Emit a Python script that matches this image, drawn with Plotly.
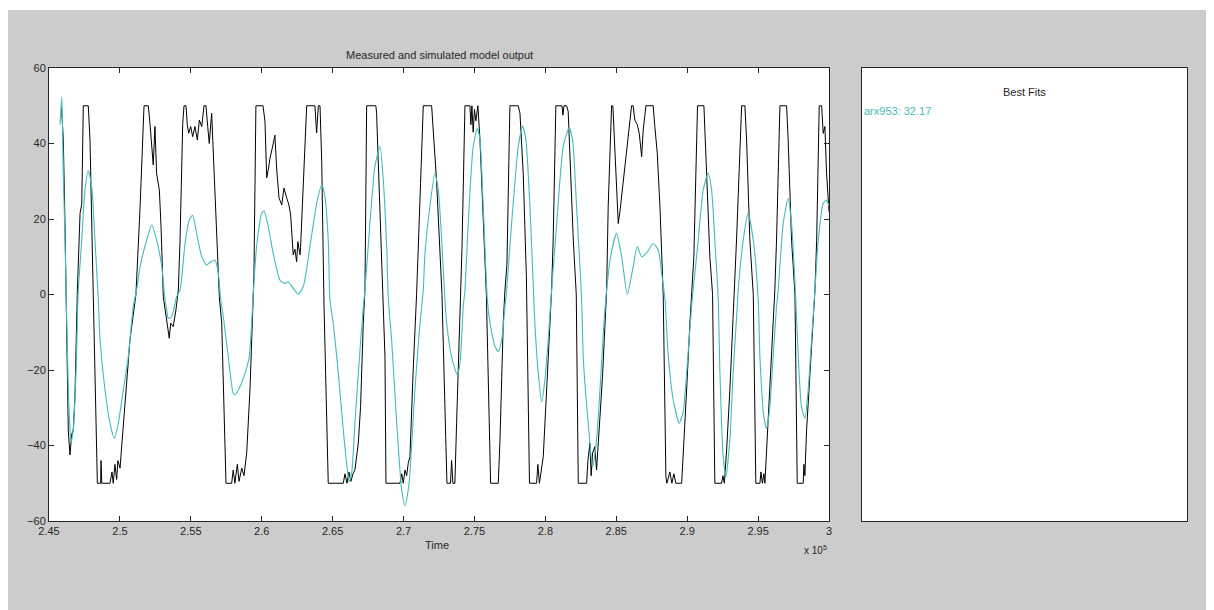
import plotly.graph_objects as go
import numpy as np

# ---- data (time in units of 1e5) ----
meas_t = [2.4588, 2.4601, 2.4613, 2.4625, 2.4636, 2.4648, 2.4660, 2.4671, 2.4683, 2.4700,
          2.4719, 2.4731, 2.4742, 2.4777, 2.4789, 2.4812, 2.4841, 2.4864, 2.4867, 2.4872,
          2.4930, 2.4944, 2.4953, 2.4965, 2.4977, 2.4986, 2.5001, 2.5013, 2.5048, 2.5071,
          2.5113, 2.5142, 2.5170, 2.5200, 2.5212, 2.5224, 2.5235, 2.5247, 2.5259, 2.5278,
          2.5290, 2.5306, 2.5318, 2.5330, 2.5348, 2.5358, 2.5376, 2.5395, 2.5412, 2.5424,
          2.5443, 2.5452, 2.5466, 2.5475, 2.5485, 2.5499, 2.5513, 2.5529, 2.5546, 2.5560,
          2.5577, 2.5593, 2.5607, 2.5619, 2.5630, 2.5647, 2.5663, 2.5682, 2.5701, 2.5718,
          2.5734, 2.5748, 2.5788, 2.5799, 2.5811, 2.5828, 2.5840, 2.5859, 2.5875, 2.5894,
          2.5917, 2.5933, 2.5945, 2.5959, 2.6009, 2.6023, 2.6035, 2.6046, 2.6058, 2.6079,
          2.6093, 2.6105, 2.6122, 2.6141, 2.6157, 2.6176, 2.6192, 2.6204, 2.6211, 2.6222,
          2.6234, 2.6246, 2.6255, 2.6270, 2.6274, 2.6317, 2.6375, 2.6387, 2.6399, 2.6411,
          2.6423, 2.6439, 2.6469, 2.6575, 2.6587, 2.6601, 2.6615, 2.6629, 2.6643, 2.6657,
          2.6681, 2.6697, 2.6716, 2.6728, 2.6740, 2.6805, 2.6810, 2.6834, 2.6857, 2.6869,
          2.6876, 2.6975, 2.6987, 2.6998, 2.7010, 2.7022, 2.7033, 2.7045, 2.7068, 2.7092,
          2.7120, 2.7139, 2.7198, 2.7233, 2.7271, 2.7306, 2.7331, 2.7339, 2.7348, 2.7362,
          2.7374, 2.7398, 2.7412, 2.7433, 2.7468, 2.7475, 2.7482, 2.7491, 2.7500, 2.7510,
          2.7524, 2.7539, 2.7562, 2.7584, 2.7614, 2.7668, 2.7680, 2.7703, 2.7715, 2.7729,
          2.7750, 2.7809, 2.7821, 2.7844, 2.7866, 2.7888, 2.7938, 2.7947, 2.7958, 2.7969,
          2.7985, 2.8009, 2.8032, 2.8044, 2.8055, 2.8074, 2.8117, 2.8124, 2.8131, 2.8150,
          2.8161, 2.8178, 2.8197, 2.8218, 2.8232, 2.8291, 2.8300, 2.8314, 2.8323, 2.8333,
          2.8349, 2.8361, 2.8373, 2.8385, 2.8404, 2.8420, 2.8432, 2.8443, 2.8467, 2.8476,
          2.8514, 2.8526, 2.8573, 2.8608, 2.8619, 2.8631, 2.8648, 2.8662, 2.8679, 2.8690,
          2.8709, 2.8760, 2.8772, 2.8789, 2.8808, 2.8831, 2.8850, 2.8857, 2.8878, 2.8892,
          2.8906, 2.8920, 2.8961, 2.8972, 2.8996, 2.9019, 2.9031, 2.9047, 2.9073, 2.9118,
          2.9137, 2.9160, 2.9179, 2.9195, 2.9243, 2.9252, 2.9262, 2.9278, 2.9301, 2.9324,
          2.9336, 2.9348, 2.9384, 2.9407, 2.9419, 2.9442, 2.9466, 2.9484, 2.9513, 2.9520,
          2.9530, 2.9541, 2.9548, 2.9560, 2.9583, 2.9606, 2.9618, 2.9630, 2.9654, 2.9701,
          2.9712, 2.9736, 2.9760, 2.9776, 2.9818, 2.9823, 2.9830, 2.9842, 2.9865, 2.9889,
          2.9901, 2.9913, 2.9931, 2.9948, 2.9959, 2.9971, 2.9983, 3.0000]
meas_y = [50, 41, 18, -10, -36, -42.5, -37, -36, -27, 1,
          21.5, 24, 50, 50, 41, 0, -50, -50, -44, -50,
          -50, -47, -50, -45, -49, -44, -46, -40, -24, -12,
          0, 23, 50, 50, 45.3, 38.3, 34.3, 44.5, 32, 27.7,
          18, -0.6, -4.1, -6.8, -11.6, -7.6, -8.5, -4.1, 1.2, 14.4,
          45.3, 50, 50, 45, 42.7, 44.5, 41.8, 44.5, 40.9, 46.2,
          44.5, 50, 50, 44.5, 40, 48, 33.9, 18, -0.6, -7.6,
          -34.1, -50, -50, -46.5, -50, -45, -49.5, -46, -48, -42,
          -25.3, -7.6, 5, 50, 50, 45.8, 30.9, 33, 36, 39.6,
          42.2, 33.5, 25.6, 23.7, 28.2, 25.6, 23.7, 21, 15.8, 10.5,
          12, 8.7, 14, 10.5, 12.5, 50, 50, 42.8, 50, 50,
          35.2, -2.8, -50, -50, -47.5, -50, -47, -49.5, -47.5, -46.5,
          -39.4, -29.7, -7.6, 1.2, 50, 50, 48, 23, -1.5, -16.5,
          -50, -50, -47.5, -50, -46.5, -48, -44.7, -43, -20, 0,
          29.4, 50, 50, 30, 0, -50, -50, -44, -50, -50,
          -34.1, -7.6, 12, 50, 50, 45, 50, 43, 49, 46,
          50, 40.9, 18.8, 0, -50, -50, -38.5, -7.6, 1.2, 8,
          50, 50, 48, 32, 5, -50, -50, -45, -50, -47,
          -43, -25.3, -7.6, 1.2, 14.4, 50, 50, 47.5, 50, 50,
          48.5, 32, 14.4, 0, -50, -50, -44, -39.4, -48, -42,
          -40.3, -46.5, -38, -32.4, -20.9, -7.6, 1.2, 23.3, 50, 50,
          18.8, 22, 37.4, 50, 50, 46.2, 45, 42.7, 36.5, 43.6,
          50, 50, 44.5, 37.4, 23.3, 0, -48.3, -50, -47, -50,
          -47.5, -50, -50, -43, -25.3, -7.6, 1.2, 10, 50, 50,
          32, 10, 0, -50, -50, -48, -50, -41.2, -25.3, -7.6,
          1.2, 14.4, 50, 50, 40.9, 14.4, 0, -50, -50, -47,
          -50, -47.5, -50, -41.2, -25.3, -7.6, 1.2, 14.4, 50, 50,
          40.9, 14.4, 0, -50, -50, -45, -48, -35.9, -20.9, -7.6,
          1.2, 14.4, 50, 50, 42.7, 44.5, 32, 22]

sim_t = [2.4578, 2.4590, 2.4601, 2.4613, 2.4636, 2.4648, 2.4655, 2.4660, 2.4671, 2.4690,
         2.4707, 2.4731, 2.4754, 2.4777, 2.4801, 2.4824, 2.4848, 2.4860, 2.4895, 2.4930,
         2.4960, 2.4989, 2.5024, 2.5059, 2.5094, 2.5118, 2.5142, 2.5189, 2.5224, 2.5259,
         2.5295, 2.5318, 2.5330, 2.5341, 2.5365, 2.5400, 2.5424, 2.5459, 2.5489, 2.5513,
         2.5541, 2.5577, 2.5612, 2.5640, 2.5671, 2.5694, 2.5711, 2.5729, 2.5764, 2.5799,
         2.5811, 2.5847, 2.5882, 2.5912, 2.5929, 2.5940, 2.5964, 2.6000, 2.6016, 2.6046,
         2.6081, 2.6129, 2.6164, 2.6187, 2.6222, 2.6258, 2.6293, 2.6340, 2.6387, 2.6423,
         2.6446, 2.6469, 2.6481, 2.6504, 2.6540, 2.6575, 2.6610, 2.6617, 2.6634, 2.6657,
         2.6681, 2.6716, 2.6728, 2.6763, 2.6798, 2.6834, 2.6857, 2.6881, 2.6893, 2.6916,
         2.6952, 2.6987, 2.7010, 2.7033, 2.7045, 2.7080, 2.7116, 2.7139, 2.7151, 2.7186,
         2.7221, 2.7245, 2.7269, 2.7292, 2.7304, 2.7339, 2.7379, 2.7398, 2.7421, 2.7433,
         2.7456, 2.7491, 2.7520, 2.7539, 2.7562, 2.7591, 2.7610, 2.7645, 2.7668, 2.7692,
         2.7715, 2.7727, 2.7762, 2.7809, 2.7840, 2.7863, 2.7891, 2.7919, 2.7926, 2.7950,
         2.7974, 2.7997, 2.8020, 2.8044, 2.8080, 2.8126, 2.8168, 2.8192, 2.8220, 2.8256,
         2.8267, 2.8302, 2.8333, 2.8361, 2.8385, 2.8413, 2.8432, 2.8460, 2.8502, 2.8538,
         2.8578, 2.8619, 2.8648, 2.8679, 2.8714, 2.8760, 2.8796, 2.8820, 2.8844, 2.8867,
         2.8902, 2.8944, 2.8972, 2.8996, 2.9031, 2.9042, 2.9078, 2.9113, 2.9148, 2.9172,
         2.9195, 2.9219, 2.9231, 2.9254, 2.9273, 2.9301, 2.9324, 2.9353, 2.9360, 2.9395,
         2.9430, 2.9466, 2.9501, 2.9513, 2.9541, 2.9560, 2.9583, 2.9606, 2.9630, 2.9642,
         2.9677, 2.9712, 2.9736, 2.9766, 2.9783, 2.9806, 2.9830, 2.9853, 2.9877, 2.9901,
         2.9924, 2.9959, 2.9983, 3.0000]
sim_y = [45, 52.4, 32, 14.4, -25.3, -35.9, -39.4, -38.5, -35.9, -20.9,
         1.2, 14.4, 27.7, 32.8, 28.6, 14.4, -1.5, -12, -25.3, -34.1,
         -38.1, -34, -25.3, -16.5, -3.2, 1.2, 7.4, 14.4, 18.4, 14.4,
         7.4, -1.5, -4.1, -6.3, -5.9, -0.6, 1.2, 13.5, 19.7, 21,
         16.2, 10, 7.8, 8.7, 9.1, 5.6, -1.5, -5.9, -16.5, -26.2,
         -26.6, -24.4, -20.9, -16.5, -7.6, 0, 12.7, 21.5, 22.2, 18,
         10.9, 3.8, 2.9, 3.3, 1.6, 0.1, 2.1, 12.7, 24.1, 29,
         25.9, 14.4, -1.5, -7.6, -20.9, -35.9, -48.3, -49.6, -47.4, -34.1,
         -20.9, -3.2, 1.2, 18.8, 33.9, 39.2, 30.3, 12.7, -1.5, -12,
         -34.1, -51.8, -56, -51.8, -47.4, -25.3, -7.6, 1.2, 10.9, 23.3,
         32.1, 27.7, 14.4, -1.5, -7.6, -16.5, -21.3, -18.2, -3.2, 1.2,
         18.8, 39.2, 44, 40.9, 23.3, -1.5, -7.6, -13.8, -15.1, -12,
         -3.2, 1.2, 18.8, 39.2, 44.6, 40.9, 23.3, -1.5, -7.6, -20.9,
         -28.4, -22.6, -12, 1.2, 18.8, 39.2, 44.2, 40.9, 23.3, -1.5,
         -16.5, -34.1, -45.6, -38.5, -25.3, -7.6, 1.2, 10, 16.2, 10,
         0.1, 7.4, 12.7, 10, 11, 13.5, 11.8, 5.6, -1.5, -16.5,
         -28, -34.1, -31, -20.9, -3.2, 1.2, 14.4, 27.7, 32.1, 27.7,
         14.4, -1.5, -20.9, -43, -48.3, -38.5, -20.9, -3.2, 1.2, 14.4,
         21.5, 14.4, -1.5, -16.5, -32.4, -35.5, -29.7, -16.5, -3.2, 1.2,
         18.8, 25.4, 18.8, -1.5, -16.5, -29.7, -32.8, -25.3, -12, 1.2,
         14.4, 24.1, 25, 23.3]

x_tick_vals = [2.45, 2.5, 2.55, 2.6, 2.65, 2.7, 2.75, 2.8, 2.85, 2.9, 2.95, 3.0]
x_tick_labels = ["2.45", "2.5", "2.55", "2.6", "2.65", "2.7", "2.75", "2.8", "2.85", "2.9", "2.95", "3"]
y_tick_vals = [-60, -40, -20, 0, 20, 40, 60]
fit_label = "arx953: 32.17"

SCALE = 1e5
FONT = "Liberation Sans, Arial, sans-serif"
AX = "#262626"
CYAN = "#45baba"

fig = go.Figure()
fig.add_trace(go.Scatter(x=np.array(meas_t) * SCALE, y=meas_y, mode="lines",
                         line=dict(color="#000000", width=1), showlegend=False))
fig.add_trace(go.Scatter(x=np.array(sim_t) * SCALE, y=sim_y, mode="lines",
                         line=dict(color=CYAN, width=1.1, shape="spline", smoothing=0.6),
                         showlegend=False))

# page has an 8px body margin: work in page pixels, figure origin at (8, 8)
OFF = 8
W, H = 1214 - OFF, 610 - OFF
PL, PR, PT, PB = 49, 1187, 68, 521      # page-pixel edges of the plotting region
L, R, T, B = PL - OFF, W - (PR - OFF), PT - OFF, H - (PB - OFF)
pw = W - L - R
ph = H - T - B
def px(x):
    return (x - OFF - L) / pw
def py(y):
    return (H - B - (y - OFF)) / ph

main_right = px(829)
panel_left = px(862)

fig.update_layout(
    width=W, height=H,
    margin=dict(l=L, r=R, t=T, b=B, pad=0),
    paper_bgcolor="#cccccc",
    plot_bgcolor="#ffffff",
    font=dict(family=FONT, size=11, color=AX),
    xaxis=dict(domain=[0, main_right], range=[2.45 * SCALE, 3.0 * SCALE],
               tickvals=[v * SCALE for v in x_tick_vals], ticktext=x_tick_labels,
               ticks="inside", ticklen=5, tickcolor=AX, showline=True, linecolor=AX,
               linewidth=1, mirror="ticks", showgrid=False, zeroline=False,
               tickfont=dict(family=FONT, size=11, color=AX)),
    yaxis=dict(domain=[0, 1], range=[-60, 60], tickvals=y_tick_vals,
               ticks="inside", ticklen=5, tickcolor=AX, showline=True, linecolor=AX,
               linewidth=1, mirror="ticks", showgrid=False, zeroline=False,
               tickfont=dict(family=FONT, size=11, color=AX)),
    xaxis2=dict(domain=[panel_left, 1], range=[0, 1], anchor="y2", showline=True,
                linecolor=AX, linewidth=1, mirror=True, showgrid=False, zeroline=False,
                showticklabels=False, ticks=""),
    yaxis2=dict(domain=[0, 1], range=[0, 1], anchor="x2", showline=True,
                linecolor=AX, linewidth=1, mirror=True, showgrid=False, zeroline=False,
                showticklabels=False, ticks=""),
)
fig.add_trace(go.Scatter(x=[None], y=[None], xaxis="x2", yaxis="y2", showlegend=False,
                         hoverinfo="skip"))

# thin white strip along the top of the page
fig.update_layout(shapes=[
    dict(type="rect", xref="paper", yref="paper", x0=px(0), x1=px(1300), y0=py(10), y1=py(0),
         fillcolor="#ffffff", line=dict(width=0), layer="above"),
])

annotations = [
    dict(text="Measured and simulated model output", x=px(439), y=py(55), xref="paper", yref="paper",
         showarrow=False, xanchor="center", yanchor="middle", font=dict(size=11, color=AX)),
    dict(text="Time", x=px(437), y=py(545), xref="paper", yref="paper",
         showarrow=False, xanchor="center", yanchor="middle", font=dict(size=11, color=AX)),
    dict(text="x 10<sup>5</sup>", x=px(829), y=py(550), xref="paper", yref="paper",
         showarrow=False, xanchor="right", yanchor="middle", font=dict(size=10, color=AX)),
    dict(text="Best Fits", x=px(1024.5), y=py(92), xref="paper", yref="paper",
         showarrow=False, xanchor="center", yanchor="middle", font=dict(size=11, color=AX)),
    dict(text=fit_label, x=px(862), y=py(111), xref="paper", yref="paper",
         showarrow=False, xanchor="left", yanchor="middle", font=dict(size=11, color=CYAN)),
]
fig.update_layout(annotations=annotations)

fig.write_html("out.html")
